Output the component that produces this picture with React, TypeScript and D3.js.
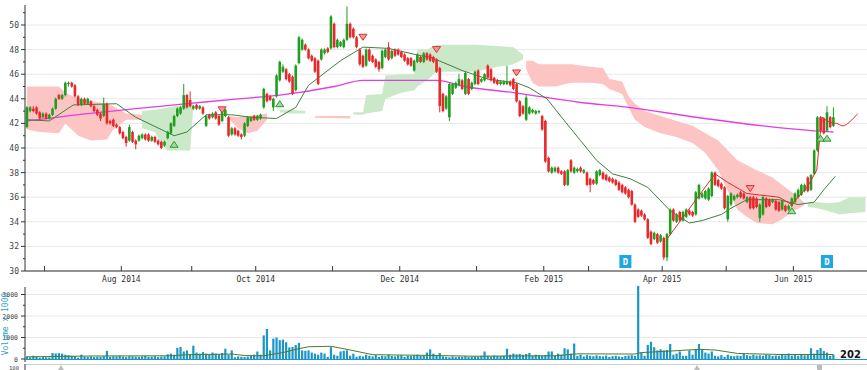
import * as d3 from "d3";

// open, high, low, close per trading day (Jun 2014 - Jun 2015)
type Candle = [number, number, number, number];
const candles: Candle[] = [
  [41.7,43.4,41.6,43.3],[43.0,43.4,42.9,43.3],[43.2,43.4,42.9,43.0],[43.3,43.4,42.7,42.8],[42.9,43.0,42.3,42.4],
  [42.5,42.9,42.4,42.8],[42.8,42.9,42.3,42.4],[42.4,42.8,42.3,42.7],[42.7,43.3,42.6,43.2],[43.2,44.1,43.1,44.0],
  [44.3,44.4,43.9,44.0],[44.0,44.4,43.9,44.3],[44.3,45.4,44.2,45.3],[45.2,45.4,45.0,45.3],[45.3,45.4,44.9,45.0],
  [45.1,45.2,44.1,44.2],[44.2,44.3,43.4,43.5],[43.5,44.1,43.4,44.0],[44.0,44.1,43.5,43.6],[43.6,44.1,43.5,44.0],
  [43.8,43.9,43.3,43.4],[43.4,43.5,42.9,43.0],[43.1,43.2,42.6,42.7],[42.8,42.9,42.2,42.4],[42.6,44.1,42.5,43.6],
  [43.6,43.7,41.9,42.0],[42.2,42.3,41.9,42.0],[42.3,42.4,41.7,41.8],[41.9,42.0,41.6,41.7],[41.7,41.8,41.1,41.2],
  [41.3,41.4,40.7,40.8],[40.9,41.0,40.1,40.4],[40.6,41.9,40.5,41.7],[41.3,41.4,40.4,40.5],[40.6,40.7,39.9,40.3],
  [40.6,41.1,40.5,41.0],[40.8,41.2,40.7,41.1],[41.1,41.2,40.6,40.7],[41.1,41.2,40.5,40.6],[40.6,41.0,40.5,40.9],
  [40.9,41.0,40.4,40.5],[40.6,40.7,40.2,40.3],[40.5,40.6,39.9,40.0],[40.2,40.6,40.1,40.5],[40.8,41.4,40.7,41.3],
  [41.2,42.1,41.1,42.0],[41.8,42.7,41.7,42.6],[42.6,43.3,42.5,43.2],[42.8,43.4,42.7,43.3],[43.2,45.2,43.1,44.3],
  [44.3,44.4,43.2,43.3],[43.9,44.6,43.3,43.4],[43.2,43.5,43.1,43.4],[43.5,43.6,43.1,43.2],[43.2,43.5,43.1,43.4],
  [43.3,43.4,42.7,42.8],[41.8,42.7,41.7,42.6],[42.7,42.8,42.3,42.4],[42.5,42.9,42.4,42.8],[42.9,43.0,42.3,42.4],
  [42.6,42.7,41.8,41.9],[42.2,43.3,42.1,43.2],[42.6,43.2,42.5,43.1],[42.5,42.6,40.9,41.0],[41.1,41.7,41.0,41.6],
  [41.6,41.7,41.0,41.1],[41.4,41.5,40.9,41.0],[41.1,41.2,40.7,40.9],[41.0,42.1,40.9,42.0],[41.8,42.6,41.7,42.5],
  [42.2,42.6,42.1,42.5],[42.6,42.7,42.2,42.3],[42.3,42.7,42.2,42.6],[42.4,42.8,42.3,42.7],[43.3,44.9,43.2,44.8],
  [44.4,44.5,43.7,43.8],[44.2,44.3,43.8,43.9],[43.3,44.1,43.0,44.0],[44.2,46.0,44.1,45.9],[45.5,47.1,45.4,47.0],
  [46.2,46.8,46.1,46.6],[46.4,46.5,45.5,45.6],[46.0,46.1,45.3,45.4],[45.8,45.9,44.3,44.4],[44.7,46.8,44.6,46.7],
  [46.9,49.1,46.8,49.0],[48.0,48.9,47.9,48.8],[48.4,48.5,47.9,48.0],[48.0,48.1,47.2,47.3],[47.5,47.6,47.0,47.1],
  [47.3,47.4,46.1,46.2],[47.1,47.2,45.1,45.2],[47.2,48.1,47.1,48.0],[47.7,48.1,47.6,48.0],[48.1,48.2,47.7,47.8],
  [48.1,50.8,48.0,50.7],[50.1,50.2,48.1,48.2],[48.2,48.9,48.1,48.8],[48.3,48.7,48.2,48.6],[48.2,48.9,48.1,48.8],
  [48.8,51.5,48.7,50.1],[50.1,50.2,48.9,49.0],[49.7,49.8,48.9,49.0],[49.0,49.1,48.1,48.2],[48.0,48.1,46.7,46.8],
  [47.5,47.6,46.5,46.6],[46.7,48.1,46.6,48.0],[48.0,48.1,47.0,47.1],[47.5,47.6,46.9,47.0],[47.2,47.3,46.5,46.6],
  [47.0,47.1,46.2,46.4],[46.5,48.0,46.4,47.9],[47.4,48.1,47.3,48.0],[48.2,48.6,47.1,47.2],[47.3,48.0,47.2,47.9],
  [48.0,48.1,47.4,47.5],[48.0,48.1,47.5,47.6],[47.8,47.9,47.3,47.4],[47.6,47.7,47.0,47.1],[47.3,47.4,46.7,46.8],
  [47.3,47.4,46.6,46.7],[46.3,47.2,46.2,47.1],[47.0,47.7,46.9,47.6],[47.4,47.5,46.9,47.0],[47.0,47.8,46.9,47.7],
  [47.7,47.8,47.1,47.2],[47.6,47.7,47.0,47.1],[47.4,47.5,46.9,47.0],[47.2,47.3,46.1,46.2],[46.5,46.6,42.9,43.4],
  [44.4,44.5,42.9,43.0],[43.2,44.3,43.1,44.2],[42.5,45.3,42.2,45.2],[44.4,45.3,44.3,45.2],[44.9,45.4,44.8,45.3],
  [45.1,46.0,45.0,45.6],[45.5,45.6,44.7,44.8],[44.4,46.2,44.3,46.1],[45.6,45.7,44.3,44.4],[44.8,45.4,44.7,45.3],
  [45.2,46.3,45.1,46.2],[46.3,46.4,45.1,45.2],[45.4,45.7,45.3,45.6],[45.5,46.1,45.4,46.0],[46.7,46.8,45.6,45.7],
  [46.4,46.5,45.4,45.5],[45.7,45.8,45.2,45.3],[45.5,45.6,45.1,45.2],[45.2,45.5,45.1,45.4],[45.2,45.5,45.1,45.4],
  [45.2,46.7,45.1,45.4],[45.4,45.5,45.0,45.1],[45.6,45.7,44.7,44.8],[45.2,45.3,43.7,43.8],[43.8,43.9,42.5,42.6],
  [43.4,43.5,42.7,42.8],[42.3,44.3,42.2,44.1],[42.8,43.4,42.7,43.3],[42.9,43.2,42.8,43.1],[42.8,43.1,42.7,43.0],
  [42.9,43.1,42.8,43.0],[42.6,42.7,41.4,41.5],[42.2,42.3,38.8,38.9],[39.2,39.3,38.0,38.1],[38.0,38.5,37.9,38.4],
  [38.1,38.5,38.0,38.4],[38.4,38.5,37.9,38.0],[38.1,38.2,37.8,37.9],[38.1,38.2,36.9,37.0],[37.0,38.3,36.9,38.2],
  [39.0,39.1,38.0,38.1],[38.0,38.5,37.9,38.4],[38.1,38.4,38.0,38.3],[38.4,38.5,38.0,38.1],[38.0,38.3,37.9,38.2],
  [38.0,38.1,36.9,37.0],[37.5,37.6,36.4,37.0],[37.4,37.5,37.0,37.1],[37.1,38.2,37.0,38.1],[37.8,38.3,37.7,38.2],
  [38.0,38.1,37.4,37.5],[37.8,37.9,37.3,37.4],[37.6,37.7,37.2,37.3],[37.5,37.6,37.1,37.2],[37.4,37.5,36.9,37.0],
  [37.2,37.3,36.5,36.6],[37.0,37.1,36.3,36.4],[36.8,36.9,36.2,36.3],[36.6,36.7,35.9,36.0],[36.5,36.6,35.3,35.4],
  [35.4,35.5,33.9,34.0],[35.0,35.1,34.3,34.4],[34.9,35.0,34.4,34.5],[34.6,34.7,34.1,34.2],[34.2,34.3,32.6,32.7],
  [33.2,33.3,32.1,32.2],[32.6,33.2,32.5,33.1],[33.0,33.1,32.2,32.3],[32.4,33.0,32.3,32.9],[32.7,32.8,30.9,31.1],
  [31.1,33.1,30.8,33.0],[33.0,35.1,32.9,35.0],[35.0,35.1,34.0,34.1],[34.0,34.7,33.9,34.6],[34.8,34.9,34.0,34.1],
  [34.1,34.9,34.0,34.8],[34.4,35.1,34.3,35.0],[34.9,35.0,34.5,34.6],[34.8,34.9,34.4,34.5],[34.6,36.5,34.5,36.4],
  [35.9,37.1,35.8,37.0],[36.0,36.4,35.9,36.3],[35.9,36.6,35.8,36.5],[35.8,36.8,35.7,36.7],[36.1,38.1,36.0,38.0],
  [38.0,38.1,36.9,37.0],[37.4,37.5,36.8,36.9],[37.1,37.2,36.6,36.7],[36.8,36.9,35.0,35.1],[34.2,36.2,34.0,36.1],
  [35.4,36.4,35.3,36.3],[35.8,36.2,35.7,36.1],[36.0,36.3,35.9,36.2],[36.4,36.5,35.9,36.0],[36.3,36.4,35.8,35.9],
  [35.6,36.1,35.5,36.0],[36.0,36.1,35.0,35.1],[36.0,36.1,35.0,35.1],[35.9,36.0,35.1,35.2],[34.3,35.5,34.0,35.4],
  [34.6,36.1,34.5,36.0],[35.9,36.0,35.1,35.2],[35.8,35.9,35.2,35.3],[35.6,35.9,35.5,35.8],[35.7,35.8,34.9,35.0],
  [35.6,35.7,34.8,34.9],[35.0,35.8,34.9,35.7],[35.3,35.4,34.8,34.9],[35.0,35.4,34.9,35.3],[35.3,36.0,35.2,35.9],
  [35.6,36.4,35.5,36.3],[36.0,36.7,35.9,36.6],[36.2,37.1,36.1,37.0],[36.5,37.1,36.4,37.0],[37.6,37.7,36.4,36.5],
  [36.6,37.9,36.5,37.8],[37.9,39.9,37.8,39.8],[39.8,42.6,39.7,42.5],[42.5,42.6,41.3,41.4],[42.4,42.5,41.1,41.2],
  [41.4,43.4,41.3,42.9],[42.5,42.6,41.6,41.7],[41.8,43.3,41.7,42.5],
];

// volume in thousands, one per candle
const volumes: number[] = [
  120,80,150,100,60,90,80,70,280,260,270,250,200,180,150,130,60,200,110,100,
  120,90,110,100,130,380,100,130,120,150,110,90,130,120,110,100,120,140,100,110,
  130,90,110,120,220,250,200,520,560,350,400,200,620,300,250,320,250,200,300,250,
  220,280,480,200,400,80,120,100,90,110,150,200,350,200,1100,1400,400,950,1000,880,
  900,780,540,560,650,750,400,380,400,300,250,200,300,250,100,550,200,150,350,380,
  400,150,250,100,150,120,200,150,120,180,100,150,130,200,140,120,160,180,100,150,
  140,170,200,150,160,300,450,250,150,280,120,100,80,120,90,110,100,130,90,110,
  120,100,150,350,150,120,160,140,130,150,480,200,250,220,240,200,230,280,150,200,
  180,160,190,350,350,150,250,200,500,450,250,720,150,200,120,180,150,130,170,140,
  120,160,100,130,150,120,100,140,160,180,150,3400,300,150,650,800,550,400,450,400,
  420,700,200,250,350,150,150,400,200,450,700,450,300,250,350,150,120,180,100,200,
  150,130,160,140,250,180,150,200,160,170,150,200,180,140,160,150,200,170,250,160,
  180,150,200,170,180,500,250,420,510,370,300,150,202,
];

// [bar index, value]
const longMa: [number, number][] = [
  [0,42.2],[19,42.8],[34,43.2],[50,43.6],[66,44.0],[79,44.3],[96,45.0],[105,45.5],[128,45.5],
  [137,45.0],[152,44.5],[173,43.7],[188,43.3],[209,42.5],[230,41.8],[246,41.4],[252,41.3],
];
const shortMa: [number, number][] = [
  [0,42.3],[7,42.2],[14.5,43.5],[28,43.6],[34,42.5],[46,41.0],[50,41.3],[56,42.7],[64,42.7],[70,42.5],
  [78,42.4],[84,43.3],[88,45.1],[98,47.1],[105,48.2],[113,48.1],[123,47.5],[126,47.4],[136,46.3],
  [144,45.6],[153,45.3],[157,44.9],[162.5,44.0],[168,42.2],[173,40.6],[178,39.0],[183,37.9],[188.5,37.5],
  [194,36.8],[201,34.9],[207,33.9],[211,34.1],[217,34.6],[220,35.1],[225,35.8],[235,35.8],[241,35.4],
  [246,35.6],[249,36.6],[252.6,37.7],
];
const volumeMa: [number, number][] = [
  [0,100],[20,140],[45,150],[50,200],[64,230],[68,160],[74,150],[80,300],[85,480],[88,570],[95,590],
  [101,420],[108,200],[125,170],[140,130],[165,150],[172,240],[190,230],[192,300],[200,360],[210,450],
  [215,420],[222,260],[235,210],[252,210],
];
const zigzag: [number, number][] = [
  [200,32.6],[215,37.9],[219,37.2],[225,36.3],[235,36.0],[239,35.4],[244,36.9],[246.8,38.2],
  [247.8,41.0],[248.5,42.5],[250,42.2],[252,42.0],
];
const projection: [number, number][] = [[252,42.0],[253,42.0],[255,41.8],[257,42.1],[259.6,42.8]];

// cloud pieces: [bar index, top, bottom]
const pinkClouds: [number, number, number][][] = [
  [[0,45.0,41.5],[4,45.0,41.3],[10,45.0,41.2],[12,44.5,42.0],[16,44.0,41.0],[20,43.8,40.6],[25,43.6,40.7],
   [27,43.4,41.5],[31,42.8,42.3],[36,42.7,42.3],[38,42.6,42.4]],
  [[63,42.6,42.4],[66,42.5,41.6],[69,42.6,41.2],[72,42.7,41.4],[75,42.8,42.3]],
  [[90,42.6,42.45],[101,42.6,42.4]],
  [[156,47.1,46.4],[158,47.1,45.3],[160,46.8,45.0],[165,46.8,45.0],[170,46.8,45.3],[176,46.6,45.3],
   [180,46.5,45.2],[182,45.6,44.8],[186,45.4,44.4],[188,44.2,43.3],[190,43.6,42.3],[193,43.0,41.7],
   [198,42.6,41.2],[203,42.2,40.9],[208,41.8,40.4],[212,41.2,39.6],[216,40.6,38.2],[219,39.8,36.5],
   [222,39.0,35.0],[225,38.6,34.4],[228,38.2,33.9],[233,37.6,33.8],[236,37.0,34.2],[239,36.4,34.8],
   [242,35.8,35.2],[243,35.5,35.4]],
];
const greenClouds: [number, number, number][][] = [
  [[36,43.0,41.6],[40,43.1,41.3],[42,43.2,40.3],[44,43.3,39.8],[51,43.6,39.8],[52,43.6,43.4]],
  [[79,43.1,42.9],[82,43.1,42.8],[87,43.0,42.8]],
  [[102,42.9,42.7],[105,42.9,42.7],[106,44.3,42.8],[111,44.4,43.0],[112,45.9,44.0],[117,46.0,44.5],
   [121,46.0,44.7],[122,48.0,45.0],[125,48.0,45.5],[128,48.4,46.2],[140,48.4,46.2],[147,48.3,46.6],
   [152,48.2,46.8],[155,47.6,47.2]],
  [[244,35.5,35.2],[247,35.6,35.1],[250,35.5,34.9],[254,35.6,34.6],[257,36.0,34.7],[262,36.0,34.8]],
];

const upSignals: [number, number][] = [[46,40.3],[79,43.6],[239,34.9],[248,40.8],[250,40.8]];
const downSignals: [number, number][] = [[61,43.1],[105,49.0],[128,48.0],[153,46.1],[226,36.7]];
const dividendBars = [187, 250];

const monthTicks = [6, 30, 52, 72, 96, 117, 141, 162, 176, 199, 219, 240];
const monthLabels = ["", "Aug 2014", "", "Oct 2014", "", "Dec 2014", "", "Feb 2015", "", "Apr 2015", "", "Jun 2015"];
const priceTicks = [30, 32, 34, 36, 38, 40, 42, 44, 46, 48, 50];
const priceMinorTicks = [31, 33, 35, 37, 39, 41, 43, 45, 47, 49, 51];
const volumeTicks = [0, 1000, 2000, 3000];
const volumeMinorTicks = [500, 1500, 2500];

const W = 867;
const H = 370;
const left = 25;
const mainBottom = 271;
const volBottom = 359;
const mono = "'DejaVu Sans Mono', monospace";

export default function App() {
  const x = d3.scaleLinear().domain([-0.6, 262.5]).range([left, W]);
  const y = d3.scaleLinear().domain([30, 50]).range([mainBottom, 25]);
  const yv = d3.scaleLinear().domain([0, 3000]).range([volBottom, 294.5]);

  const line = (pts: [number, number][], curve: d3.CurveFactory = d3.curveLinear) =>
    d3.line<[number, number]>().x((d) => x(d[0])).y((d) => y(d[1])).curve(curve)(pts) || "";
  const area = d3
    .area<[number, number, number]>()
    .x((d) => x(d[0]))
    .y0((d) => y(d[2]))
    .y1((d) => y(d[1]));
  const volLine = d3
    .line<[number, number]>()
    .x((d) => x(d[0]))
    .y((d) => yv(d[1]));

  return (
    <svg width={W} height={H} style={{ position: "absolute", left: 0, top: 0, background: "#fff" }}>
      {/* price grid */}
      {priceTicks.map((t) => (
        <line key={"g" + t} x1={left} x2={W} y1={y(t)} y2={y(t)} stroke="#e8e8e8" />
      ))}
      {pinkClouds.map((c, i) => (
        <path key={"p" + i} d={area(c) || ""} fill="#fdc4c4" />
      ))}
      {greenClouds.map((c, i) => (
        <path key={"c" + i} d={area(c) || ""} fill="#cbe8c8" />
      ))}
      <path d={line(longMa, d3.curveMonotoneX)} fill="none" stroke="#e23fe2" strokeWidth={1.3} />
      <path d={line(shortMa)} fill="none" stroke="#3f7f3f" strokeWidth={1} />

      {candles.map(([o, h, l, c], i) => {
        const col = c >= o ? "#1f9e1f" : "#e8282b";
        const top = y(Math.max(o, c));
        const bh = Math.max(1, Math.abs(y(o) - y(c)));
        return (
          <g key={"k" + i}>
            <line x1={x(i)} x2={x(i)} y1={y(h)} y2={y(l)} stroke={col} strokeWidth={1} />
            <rect x={x(i) - 1.3} y={top} width={2.6} height={bh} fill={col} />
          </g>
        );
      })}

      <path d={line(zigzag)} fill="none" stroke="#e02a2a" strokeWidth={1} />
      <path d={line(projection, d3.curveCatmullRom)} fill="none" stroke="#e02a2a" strokeWidth={1} />

      {upSignals.map(([i, v], k) => (
        <path
          key={"u" + k}
          d={`M${x(i) - 4},${y(v) + 3}L${x(i) + 4},${y(v) + 3}L${x(i)},${y(v) - 3}Z`}
          fill="#9fdc9f"
          stroke="#2a9a2a"
          strokeWidth={1}
        />
      ))}
      {downSignals.map(([i, v], k) => (
        <path
          key={"d" + k}
          d={`M${x(i) - 4},${y(v) - 3}L${x(i) + 4},${y(v) - 3}L${x(i)},${y(v) + 3}Z`}
          fill="#f59a9a"
          stroke="#e03030"
          strokeWidth={1}
        />
      ))}
      {dividendBars.map((i) => (
        <g key={"dv" + i}>
          <rect x={x(i) - 6} y={255} width={12} height={13} fill="#1ea7e1" />
          <text x={x(i)} y={265} textAnchor="middle" fontSize={9} fontWeight="bold" fill="#fff" fontFamily={mono}>
            D
          </text>
        </g>
      ))}

      {/* price axes */}
      <line x1={left} x2={left} y1={5} y2={mainBottom} stroke="#333" />
      <line x1={left} x2={W} y1={mainBottom} y2={mainBottom} stroke="#333" />
      {priceTicks.map((t) => (
        <g key={"pt" + t}>
          <line x1={left - 4} x2={left} y1={y(t)} y2={y(t)} stroke="#333" />
          <text x={19} y={y(t) + 3} textAnchor="end" fontSize={8} fill="#444" fontFamily={mono}>
            {t}
          </text>
        </g>
      ))}
      {priceMinorTicks.map((t) => (
        <line key={"pm" + t} x1={left - 2} x2={left} y1={y(t)} y2={y(t)} stroke="#333" />
      ))}
      {monthTicks.map((m, k) => (
        <g key={"m" + m}>
          <line x1={x(m - 0.5)} x2={x(m - 0.5)} y1={mainBottom - 5} y2={mainBottom} stroke="#333" />
          {monthLabels[k] && (
            <text x={x(m - 0.5)} y={282} textAnchor="middle" fontSize={8} fill="#333" fontFamily={mono}>
              {monthLabels[k]}
            </text>
          )}
        </g>
      ))}

      {/* volume panel */}
      {volumeTicks.slice(1).map((t) => (
        <line key={"vg" + t} x1={left} x2={W} y1={yv(t)} y2={yv(t)} stroke="#e8e8e8" />
      ))}
      {volumes.map((v, i) => (
        <rect key={"v" + i} x={x(i) - 1.1} y={yv(v)} width={2.2} height={volBottom - yv(v)} fill="#1b96c6" />
      ))}
      <path d={volLine(volumeMa) || ""} fill="none" stroke="#4f7a2a" strokeWidth={1} />
      <line x1={left} x2={left} y1={287} y2={362} stroke="#333" />
      <line x1={left} x2={W} y1={volBottom + 0.5} y2={volBottom + 0.5} stroke="#1b96c6" />
      {volumeTicks.map((t) => (
        <g key={"vt" + t}>
          <line x1={left - 4} x2={left} y1={yv(t)} y2={yv(t)} stroke="#333" />
          <text x={18} y={yv(t) + 2.5} textAnchor="end" fontSize={6.5} fill="#444" fontFamily={mono}>
            {t}
          </text>
        </g>
      ))}
      {volumeMinorTicks.map((t) => (
        <line key={"vm" + t} x1={left - 2} x2={left} y1={yv(t)} y2={yv(t)} stroke="#333" />
      ))}
      <text
        transform="translate(8,324) rotate(-90)"
        textAnchor="middle"
        fontSize={8}
        fill="#2a9fc0"
        fontFamily={mono}
      >
        Volume x 1000
      </text>
      <text x={840} y={358} fontSize={10} fontWeight="bold" fill="#111" fontFamily="'DejaVu Sans', sans-serif">
        {volumes[volumes.length - 1]}
      </text>

      {/* top of the next panel, cut off */}
      <line x1={left} x2={W} y1={364.5} y2={364.5} stroke="#cfcfcf" />
      <line x1={left} x2={left} y1={364} y2={370} stroke="#333" />
      <text x={19} y={369.5} textAnchor="end" fontSize={5.5} fill="#444" fontFamily={mono}>
        100
      </text>
      {[61, 697].map((px) => (
        <path key={"bt" + px} d={`M${px - 3},370L${px + 3},370L${px},365Z`} fill="#bbb" />
      ))}
      <rect x={817} y={365} width={5} height={5} fill="#bbb" />
    </svg>
  );
}
